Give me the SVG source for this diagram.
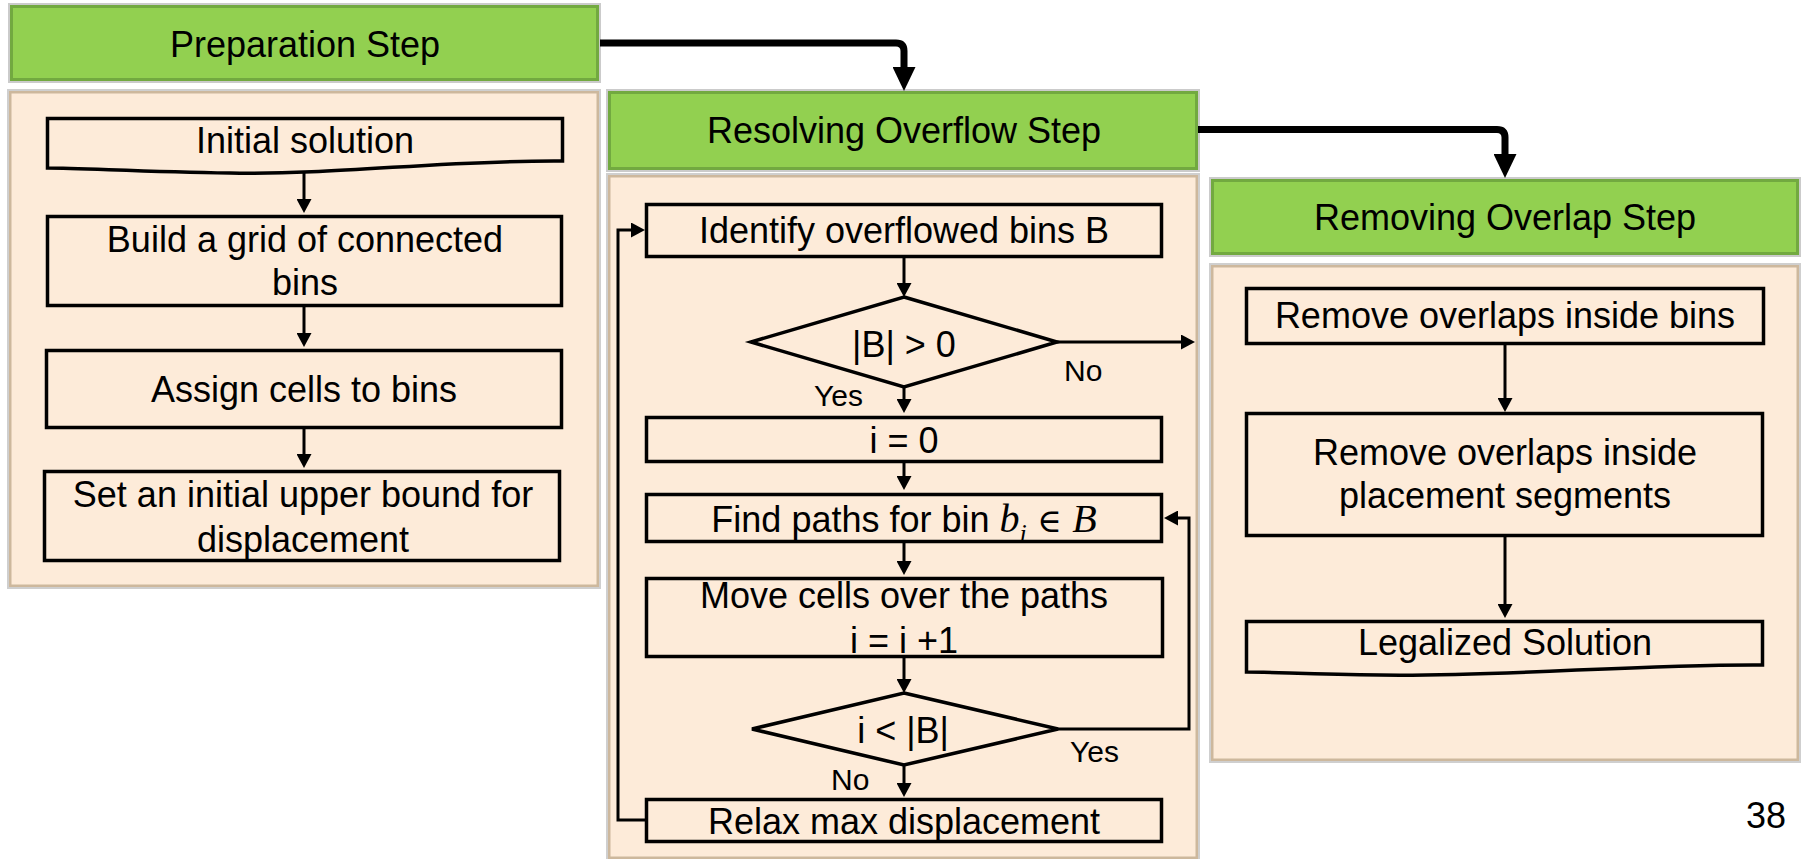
<svg xmlns="http://www.w3.org/2000/svg" width="1802" height="859" viewBox="0 0 1802 859">
  <style>
    .hdr-out { fill: none; stroke: #cbcbcb; stroke-width: 2; }
    .hdr { fill: #92d050; stroke: #72a940; stroke-width: 3; }
    .pnl-out { fill: none; stroke: #cfcfcf; stroke-width: 2; }
    .pnl { fill: #fdebd9; stroke: #cdb89d; stroke-width: 2.5; }
    .box { fill: none; stroke: #000; stroke-width: 3.5; stroke-linejoin: miter; }
    .t { font-family: "Liberation Sans", Arial, sans-serif; font-size: 36px; fill: #000; text-anchor: middle; }
    .lbl { font-family: "Liberation Sans", Arial, sans-serif; font-size: 30px; fill: #000; }
    .m { font-family: "Liberation Serif", "DejaVu Serif", serif; font-style: italic; font-size: 40px; }
    .sub { font-family: "Liberation Serif", "DejaVu Serif", serif; font-style: italic; font-size: 26px; }
    .sym { font-family: "DejaVu Serif", "Liberation Serif", serif; font-style: normal; font-size: 33px; }
    .ln { fill: none; stroke: #000; stroke-width: 3; }
    .big { fill: none; stroke: #000; stroke-width: 7; stroke-linejoin: round; }
  </style>
  <defs>
    <marker id="ah" markerUnits="userSpaceOnUse" viewBox="0 0 14 15" markerWidth="14" markerHeight="15" refX="2" refY="7.5" orient="auto">
      <path d="M0,0 L14,7.5 L0,15 Z" fill="#000"/>
    </marker>
    <marker id="ahBig" markerUnits="userSpaceOnUse" viewBox="0 0 24 23" markerWidth="24" markerHeight="23" refX="3" refY="11.5" orient="auto">
      <path d="M0,0 L24,11.5 L0,23 Z" fill="#000"/>
    </marker>
  </defs>

  <rect width="1802" height="859" fill="#ffffff"/>

  <!-- Preparation step -->
  <g id="prep-header">
    <rect class="hdr-out" x="9" y="4" width="591" height="78"/>
    <rect class="hdr" x="11.5" y="6.5" width="586" height="73"/>
    <text class="t" x="305" y="57">Preparation Step</text>
  </g>
  <g id="prep-panel">
    <rect class="pnl-out" x="8" y="90" width="592" height="498"/>
    <rect class="pnl" x="10.25" y="92.25" width="587.5" height="493.5"/>
  </g>
  <g id="initial-solution">
    <path class="box" d="M47.5,118.5 H562.5 V161 C440,160 340,175 230,173 C140,171.5 80,168 47.5,168 Z"/>
    <text class="t" x="305" y="153">Initial solution</text>
  </g>
  <g id="build-grid">
    <rect class="box" x="47.5" y="216.5" width="514" height="89"/>
    <text class="t" x="305" y="252">Build a grid of connected</text>
    <text class="t" x="305" y="295">bins</text>
  </g>
  <g id="assign-cells">
    <rect class="box" x="46.5" y="350.5" width="515" height="77"/>
    <text class="t" x="304" y="402">Assign cells to bins</text>
  </g>
  <g id="set-bound">
    <rect class="box" x="44.5" y="471.5" width="515" height="89"/>
    <text class="t" x="303" y="507">Set an initial upper bound for</text>
    <text class="t" x="303" y="552">displacement</text>
  </g>

  <!-- Resolving overflow step -->
  <g id="resolve-header">
    <rect class="hdr-out" x="607" y="90" width="592" height="81"/>
    <rect class="hdr" x="609.5" y="92.5" width="587" height="76"/>
    <text class="t" x="904" y="143">Resolving Overflow Step</text>
  </g>
  <g id="resolve-panel">
    <rect class="pnl-out" x="607" y="174" width="592" height="686"/>
    <rect class="pnl" x="609.25" y="176.25" width="587.5" height="681.5"/>
  </g>
  <g id="identify-bins">
    <rect class="box" x="646.5" y="204.5" width="515" height="52"/>
    <text class="t" x="904" y="243">Identify overflowed bins B</text>
  </g>
  <g id="check-overflow">
    <polygon class="box" points="904,297 1057,342 904,387 751,342"/>
    <text class="t" x="904" y="357">|B| &gt; 0</text>
  </g>
  <g id="init-index">
    <rect class="box" x="646.5" y="417.5" width="515" height="44"/>
    <text class="t" x="904" y="453">i = 0</text>
  </g>
  <g id="find-paths">
    <rect class="box" x="646.5" y="494.5" width="515" height="47"/>
    <text class="t" x="904" y="532">Find paths for bin <tspan class="m">b</tspan><tspan class="sub" dy="10">i</tspan><tspan class="sym" dy="-10"> ∈ </tspan><tspan class="m">B</tspan></text>
  </g>
  <g id="move-cells">
    <rect class="box" x="646.5" y="578.5" width="516" height="78"/>
    <text class="t" x="904" y="608">Move cells over the paths</text>
    <text class="t" x="904" y="653">i = i +1</text>
  </g>
  <g id="check-index">
    <polygon class="box" points="904,693 1058,729 904,765 752,729"/>
    <text class="t" x="903" y="743">i &lt; |B|</text>
  </g>
  <g id="relax-displacement">
    <rect class="box" x="646.5" y="799.5" width="515" height="42"/>
    <text class="t" x="904" y="834">Relax max displacement</text>
  </g>

  <!-- Removing overlap step -->
  <g id="remove-header">
    <rect class="hdr-out" x="1210" y="178" width="590" height="78"/>
    <rect class="hdr" x="1212.5" y="180.5" width="585" height="73"/>
    <text class="t" x="1505" y="230">Removing Overlap Step</text>
  </g>
  <g id="remove-panel">
    <rect class="pnl-out" x="1210" y="264" width="590" height="498"/>
    <rect class="pnl" x="1212.25" y="266.25" width="585.5" height="493.5"/>
  </g>
  <g id="remove-in-bins">
    <rect class="box" x="1246.5" y="288.5" width="517" height="55"/>
    <text class="t" x="1505" y="328">Remove overlaps inside bins</text>
  </g>
  <g id="remove-in-segments">
    <rect class="box" x="1246.5" y="413.5" width="516" height="122"/>
    <text class="t" x="1505" y="465">Remove overlaps inside</text>
    <text class="t" x="1505" y="508">placement segments</text>
  </g>
  <g id="legalized-solution">
    <path class="box" d="M1246.5,621.5 H1762.5 V665 C1640,664 1500,677 1380,675 C1310,674 1270,672 1246.5,672 Z"/>
    <text class="t" x="1505" y="655">Legalized Solution</text>
  </g>

  <!-- Connectors -->
  <g id="connectors">
    <path class="big" d="M600,43 H896 Q904,43 904,51 V70" marker-end="url(#ahBig)"/>
    <path class="big" d="M1198,129.5 H1497 Q1505,129.5 1505,137.5 V157" marker-end="url(#ahBig)"/>

    <path class="ln" d="M304,172 V201" marker-end="url(#ah)"/>
    <path class="ln" d="M304,307 V335" marker-end="url(#ah)"/>
    <path class="ln" d="M304,429 V456" marker-end="url(#ah)"/>

    <path class="ln" d="M904,258 V285" marker-end="url(#ah)"/>
    <path class="ln" d="M1057,342 H1183" marker-end="url(#ah)"/>
    <path class="ln" d="M904,387 V401" marker-end="url(#ah)"/>
    <path class="ln" d="M904,463 V478" marker-end="url(#ah)"/>
    <path class="ln" d="M904,543 V563" marker-end="url(#ah)"/>
    <path class="ln" d="M904,658 V681" marker-end="url(#ah)"/>
    <path class="ln" d="M1058,729 H1189 V518 H1176" marker-end="url(#ah)"/>
    <path class="ln" d="M904,765 V785" marker-end="url(#ah)"/>
    <path class="ln" d="M645,820 H618 V230 H633" marker-end="url(#ah)"/>

    <path class="ln" d="M1505,345 V400" marker-end="url(#ah)"/>
    <path class="ln" d="M1505,537 V606" marker-end="url(#ah)"/>

    <text class="lbl" x="1064" y="381">No</text>
    <text class="lbl" x="814" y="406">Yes</text>
    <text class="lbl" x="1070" y="762">Yes</text>
    <text class="lbl" x="831" y="790">No</text>
  </g>

  <text class="t" x="1786" y="828" style="text-anchor:end">38</text>
</svg>
